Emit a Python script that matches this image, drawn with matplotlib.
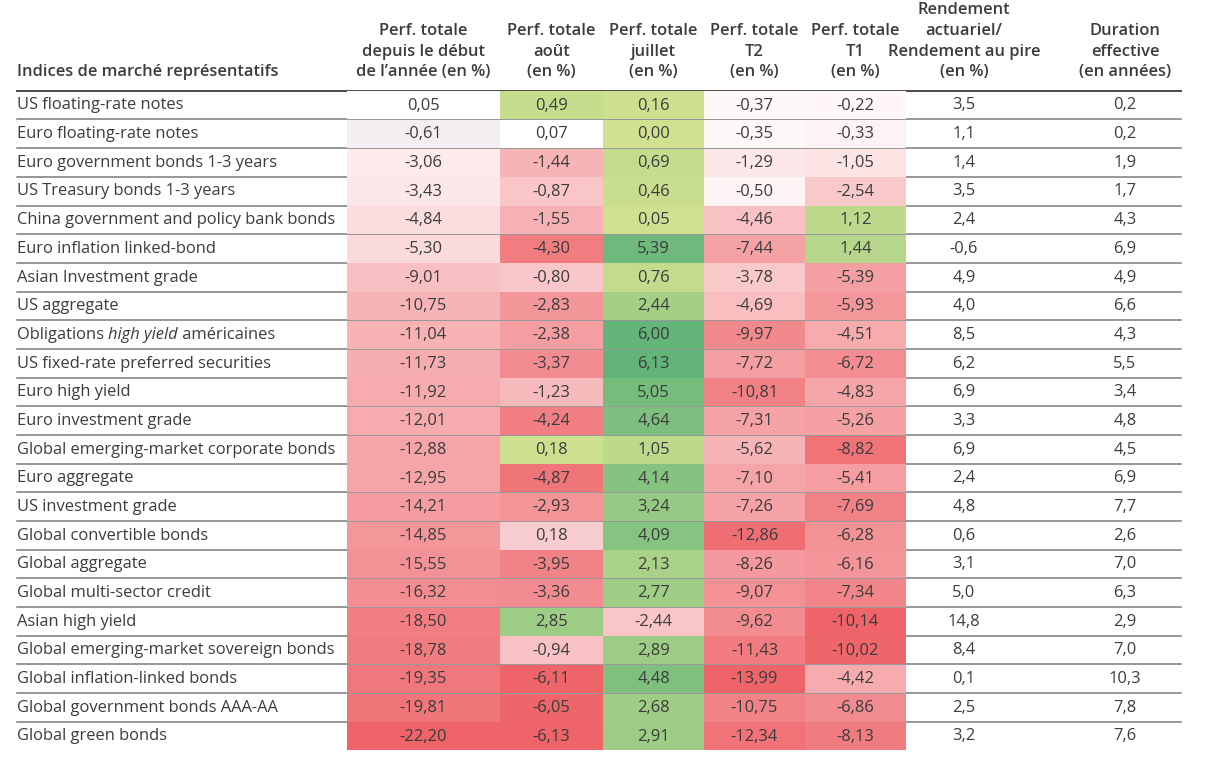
import matplotlib
matplotlib.use("Agg")
import matplotlib.pyplot as plt
from matplotlib.patches import Rectangle
import numpy as np

plt.rcParams['font.family'] = ['Open Sans', 'DejaVu Sans']

# --- données ---
labels = [
    "US floating-rate notes", "Euro floating-rate notes", "Euro government bonds 1-3 years",
    "US Treasury bonds 1-3 years", "China government and policy bank bonds",
    "Euro inflation linked-bond", "Asian Investment grade", "US aggregate",
    "Obligations high yield américaines", "US fixed-rate preferred securities",
    "Euro high yield", "Euro investment grade", "Global emerging-market corporate bonds",
    "Euro aggregate", "US investment grade", "Global convertible bonds", "Global aggregate",
    "Global multi-sector credit", "Asian high yield", "Global emerging-market sovereign bonds",
    "Global inflation-linked bonds", "Global government bonds AAA-AA", "Global green bonds",
]
ytd = [0.05, -0.61, -3.06, -3.43, -4.84, -5.30, -9.01, -10.75, -11.04, -11.73, -11.92, -12.01,
       -12.88, -12.95, -14.21, -14.85, -15.55, -16.32, -18.50, -18.78, -19.35, -19.81, -22.20]
aout = [0.49, 0.07, -1.44, -0.87, -1.55, -4.30, -0.80, -2.83, -2.38, -3.37, -1.23, -4.24,
        0.18, -4.87, -2.93, 0.18, -3.95, -3.36, 2.85, -0.94, -6.11, -6.05, -6.13]
juillet = [0.16, 0.00, 0.69, 0.46, 0.05, 5.39, 0.76, 2.44, 6.00, 6.13, 5.05, 4.64,
           1.05, 4.14, 3.24, 4.09, 2.13, 2.77, -2.44, 2.89, 4.48, 2.68, 2.91]
t2 = [-0.37, -0.35, -1.29, -0.50, -4.46, -7.44, -3.78, -4.69, -9.97, -7.72, -10.81, -7.31,
      -5.62, -7.10, -7.26, -12.86, -8.26, -9.07, -9.62, -11.43, -13.99, -10.75, -12.34]
t1 = [-0.22, -0.33, -1.05, -2.54, 1.12, 1.44, -5.39, -5.93, -4.51, -6.72, -4.83, -5.26,
      -8.82, -5.41, -7.69, -6.28, -6.16, -7.34, -10.14, -10.02, -4.42, -6.86, -8.13]
rendement = [3.5, 1.1, 1.4, 3.5, 2.4, -0.6, 4.9, 4.0, 8.5, 6.2, 6.9, 3.3, 6.9, 2.4, 4.8,
             0.6, 3.1, 5.0, 14.8, 8.4, 0.1, 2.5, 3.2]
duration = [0.2, 0.2, 1.9, 1.7, 4.3, 6.9, 4.9, 6.6, 4.3, 5.5, 3.4, 4.8, 4.5, 6.9, 7.7,
            2.6, 7.0, 6.3, 2.9, 7.0, 10.3, 7.8, 7.6]

headers = [
    "Perf. totale\ndepuis le début\nde l\u2019année (en %)",
    "Perf. totale\naoût\n(en %)",
    "Perf. totale\njuillet\n(en %)",
    "Perf. totale\nT2\n(en %)",
    "Perf. totale\nT1\n(en %)",
    "Rendement\nactuariel/\nRendement au pire\n(en %)",
    "Duration\neffective\n(en années)",
]
title = "Indices de marché représentatifs"

# --- mise en page (pixels) ---
W, H = 1205, 760
perf_cols = [ytd, aout, juillet, t2, t1]
edges = [347, 500, 603, 704, 805, 906]
plain_centers = [964, 1125]
row_top0, row_h = 90.8, 28.68
x_left, x_right = 17, 1181

red_end = np.array([238, 100, 105]) / 255
green_lo = np.array([208, 225, 144]) / 255
green_hi = np.array([98, 180, 121]) / 255
green_span = 6.13
red_span = [22.2, 6.13, 6.5, 14.0, 10.14]
red_gamma = [1.0, 0.5, 1.0, 0.8, 0.75]
overrides = {(0, 0): "#ffffff", (1, 1): "#ffffff", (1, 0): "#f4eef2", (15, 1): "#f8cdd0"}


def cell_color(v, j):
    if v >= 0:
        f = min(v / green_span, 1.0)
        return tuple(green_lo + (green_hi - green_lo) * f)
    f = min(-v / red_span[j], 1.0) ** red_gamma[j]
    return tuple(1 + (red_end - 1) * f)


fig = plt.figure(figsize=(W / 100, H / 100), dpi=100)
ax = fig.add_axes([0, 0, 1, 1])
ax.set_xlim(0, W)
ax.set_ylim(H, 0)
ax.axis("off")

txt_col = "#3c3c3c"
fs = 11.9

# lignes horizontales
ax.plot([x_left, x_right], [row_top0, row_top0], color="#4a4a4a", lw=1.4, zorder=1)
for i in range(1, len(labels)):
    y = row_top0 + i * row_h
    ax.plot([x_left, x_right], [y, y], color="#7a7a7a", lw=1.1, zorder=1)

# cellules colorées
for j, col in enumerate(perf_cols):
    x0, x1 = edges[j], edges[j + 1]
    for i, v in enumerate(col):
        y0 = row_top0 + i * row_h + 0.6
        c = overrides.get((i, j), cell_color(v, j))
        ax.add_patch(Rectangle((x0, y0), x1 - x0, row_h - 0.6, facecolor=c,
                               edgecolor="none", zorder=2))
        ax.text((x0 + x1) / 2, y0 + row_h / 2, f"{v:.2f}".replace(".", ","),
                ha="center", va="center", fontsize=fs, color=txt_col, zorder=3)

for k, col in enumerate([rendement, duration]):
    for i, v in enumerate(col):
        y = row_top0 + (i + 0.5) * row_h + 0.3
        ax.text(plain_centers[k], y, f"{v:.1f}".replace(".", ","),
                ha="center", va="center", fontsize=fs, color=txt_col, zorder=3)

# libellés des lignes (avec "high yield" en italique)
renderer = fig.canvas.get_renderer()
for i, lab in enumerate(labels):
    y = row_top0 + (i + 0.5) * row_h + 0.3
    if "high yield am" in lab:
        parts = [("Obligations ", "normal"), ("high yield", "italic"), (" américaines", "normal")]
        x = x_left
        for s, st in parts:
            t = ax.text(x, y, s, ha="left", va="center", fontsize=fs, color=txt_col, style=st)
            bb = t.get_window_extent(renderer)
            x += bb.width
    else:
        ax.text(x_left, y, lab, ha="left", va="center", fontsize=fs, color=txt_col)

# en-têtes
centers = [(edges[j] + edges[j + 1]) / 2 for j in range(5)] + plain_centers
line_gap = 20.5
base_y = 72
for c, h in zip(centers, headers):
    lines = h.split("\n")
    for k, s in enumerate(reversed(lines)):
        ax.text(c, base_y - k * line_gap, s, ha="center", va="center",
                fontsize=fs, fontweight="semibold", color=txt_col)
ax.text(x_left, base_y, title, ha="left", va="center", fontsize=fs,
        fontweight="semibold", color=txt_col)

fig.savefig("out.png", dpi=100, facecolor="white")
